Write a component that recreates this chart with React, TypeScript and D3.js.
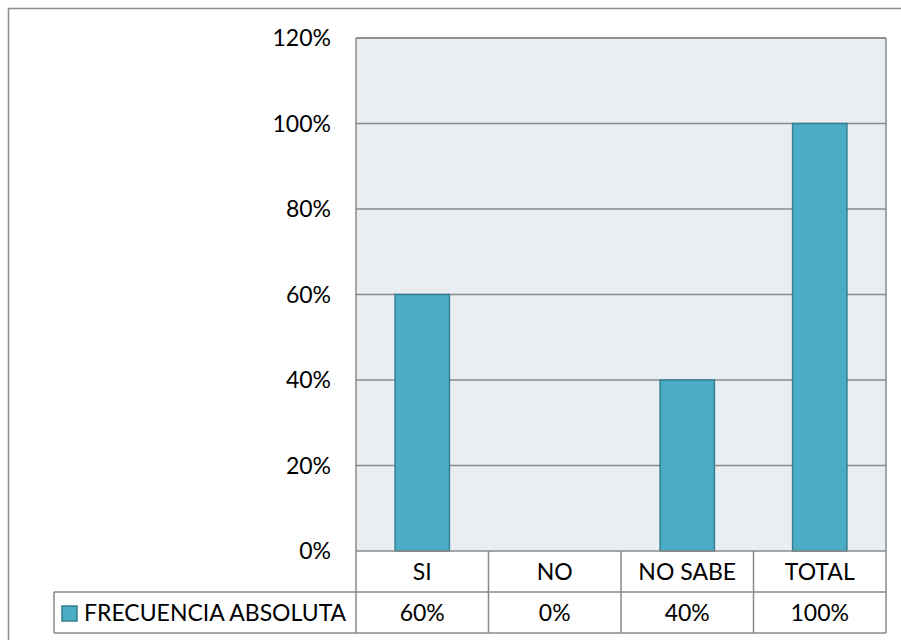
import { useRef, useEffect } from "react";
import * as d3 from "d3";

const categories = ["SI", "NO", "NO SABE", "TOTAL"];
const values = [0.6, 0, 0.4, 1.0];
const seriesName = "FRECUENCIA ABSOLUTA";
const yTicks = [0, 0.2, 0.4, 0.6, 0.8, 1.0, 1.2];

export default function App() {
  const ref = useRef<SVGSVGElement>(null);

  useEffect(() => {
    const W = 901, H = 640;
    const plot = { left: 356, right: 886, top: 38, bottom: 551 };
    const rowH = 41;
    const legendLeft = 54;
    const font = "Lato, 'Open Sans', sans-serif";
    const fontSize = 23;
    const gridColor = "#8a8a8a";

    const svg = d3.select(ref.current);
    svg.selectAll("*").remove();
    svg.attr("width", W).attr("height", H);

    // outer chart frame (runs off the page at right and bottom)
    svg.append("rect")
      .attr("x", 8.5).attr("y", 8.5)
      .attr("width", W + 20).attr("height", H + 20)
      .attr("fill", "#fff")
      .attr("stroke", "#8c8c8c").attr("stroke-width", 1.5);

    const x = d3.scaleBand<string>()
      .domain(categories)
      .range([plot.left, plot.right])
      .paddingInner(0.59)
      .paddingOuter(0.295);
    const xCell = d3.scaleBand<string>()
      .domain(categories)
      .range([plot.left, plot.right]);
    const y = d3.scaleLinear().domain([0, 1.2]).range([plot.bottom, plot.top]);
    const fmt = d3.format(".0%");

    // plot area
    svg.append("rect")
      .attr("x", plot.left).attr("y", plot.top)
      .attr("width", plot.right - plot.left)
      .attr("height", plot.bottom - plot.top)
      .attr("fill", "#e8eef2");

    // gridlines
    svg.append("g").selectAll("line")
      .data(yTicks.filter((t) => t > 0))
      .join("line")
      .attr("x1", plot.left).attr("x2", plot.right)
      .attr("y1", (d) => y(d)).attr("y2", (d) => y(d))
      .attr("stroke", gridColor).attr("stroke-width", 1.5);

    // y labels
    svg.append("g").selectAll("text")
      .data(yTicks)
      .join("text")
      .attr("x", 331)
      .attr("y", (d) => y(d))
      .attr("dy", "0.35em")
      .attr("text-anchor", "end")
      .attr("font-family", font).attr("font-size", fontSize)
      .attr("fill", "#000")
      .text((d) => fmt(d));

    // bars
    svg.append("g").selectAll("rect")
      .data(categories.map((c, i) => ({ c, v: values[i] })))
      .join("rect")
      .attr("x", (d) => x(d.c)!)
      .attr("y", (d) => y(d.v))
      .attr("width", x.bandwidth())
      .attr("height", (d) => y(0) - y(d.v))
      .attr("fill", "#4bacc6")
      .attr("stroke", "#357f93").attr("stroke-width", 1.5);

    // data table
    const t = svg.append("g")
      .attr("fill", "none").attr("stroke", gridColor).attr("stroke-width", 1.5);
    t.append("line")
      .attr("x1", plot.left).attr("x2", plot.right)
      .attr("y1", plot.top).attr("y2", plot.top);
    t.append("line")
      .attr("x1", plot.left).attr("x2", plot.right)
      .attr("y1", plot.bottom).attr("y2", plot.bottom);
    t.append("line")
      .attr("x1", legendLeft).attr("x2", plot.right)
      .attr("y1", plot.bottom + rowH).attr("y2", plot.bottom + rowH);
    t.append("line")
      .attr("x1", legendLeft).attr("x2", plot.right)
      .attr("y1", plot.bottom + 2 * rowH).attr("y2", plot.bottom + 2 * rowH);
    t.append("line")
      .attr("x1", legendLeft).attr("x2", legendLeft)
      .attr("y1", plot.bottom + rowH).attr("y2", plot.bottom + 2 * rowH);
    t.append("line")
      .attr("x1", plot.left).attr("x2", plot.left)
      .attr("y1", plot.top).attr("y2", plot.bottom + 2 * rowH);
    t.append("line")
      .attr("x1", plot.right).attr("x2", plot.right)
      .attr("y1", plot.top).attr("y2", plot.bottom + 2 * rowH);
    t.selectAll("line.sep")
      .data(categories.slice(1))
      .join("line")
      .attr("class", "sep")
      .attr("x1", (d) => xCell(d)!).attr("x2", (d) => xCell(d)!)
      .attr("y1", plot.bottom).attr("y2", plot.bottom + 2 * rowH);

    svg.append("g").selectAll("text")
      .data(categories)
      .join("text")
      .attr("x", (d) => xCell(d)! + xCell.bandwidth() / 2)
      .attr("y", plot.bottom + rowH / 2)
      .attr("dy", "0.35em")
      .attr("text-anchor", "middle")
      .attr("font-family", font).attr("font-size", fontSize)
      .text((d) => d);

    svg.append("g").selectAll("text")
      .data(categories.map((c, i) => ({ c, v: values[i] })))
      .join("text")
      .attr("x", (d) => xCell(d.c)! + xCell.bandwidth() / 2)
      .attr("y", plot.bottom + rowH * 1.5)
      .attr("dy", "0.35em")
      .attr("text-anchor", "middle")
      .attr("font-family", font).attr("font-size", fontSize)
      .text((d) => fmt(d.v));

    // legend key
    svg.append("rect")
      .attr("x", 62).attr("y", plot.bottom + rowH + 14)
      .attr("width", 15).attr("height", 15)
      .attr("fill", "#4bacc6")
      .attr("stroke", "#357f93").attr("stroke-width", 1.5);
    svg.append("text")
      .attr("x", 84)
      .attr("y", plot.bottom + rowH * 1.5)
      .attr("dy", "0.35em")
      .attr("font-family", font).attr("font-size", fontSize)
      .text(seriesName);
  }, []);

  return (
    <svg ref={ref} style={{ position: "absolute", left: 0, top: 0, display: "block" }} />
  );
}
